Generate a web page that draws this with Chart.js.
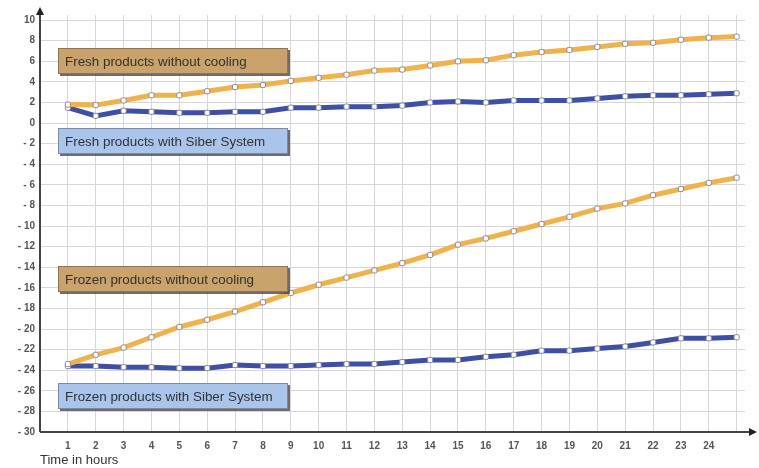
<!DOCTYPE html>
<html>
<head>
<meta charset="utf-8">
<script src="https://cdn.jsdelivr.net/npm/chart.js@4/dist/chart.umd.min.js"></script>
<style>
html,body{margin:0;padding:0;background:#fff;}
#wrap{position:relative;width:759px;height:468px;}
</style>
</head>
<body>
<div id="wrap"><canvas id="c" width="759" height="468"></canvas></div>
<script>
// Hours (25 measured points; labels 1..24)
const hours = [1,2,3,4,5,6,7,8,9,10,11,12,13,14,15,16,17,18,19,20,21,22,23,24,25];
const xTickLabels = ['1','2','3','4','5','6','7','8','9','10','11','12','13','14','15','16','17','18','19','20','21','22','23','24',''];
const yTickValues = [-30,-28,-26,-24,-22,-20,-18,-16,-14,-12,-10,-8,-6,-4,-2,0,2,4,6,8,10];

const freshWithoutCooling = [1.8,1.75,2.2,2.7,2.7,3.1,3.5,3.7,4.1,4.4,4.7,5.1,5.2,5.6,6.0,6.1,6.6,6.9,7.1,7.4,7.7,7.8,8.1,8.3,8.4];
const freshWithSiber      = [1.5,0.7,1.2,1.1,1.0,1.0,1.1,1.1,1.5,1.5,1.6,1.6,1.7,2.0,2.1,2.0,2.2,2.2,2.2,2.4,2.6,2.7,2.7,2.8,2.9];
const frozenWithoutCooling= [-23.4,-22.5,-21.8,-20.8,-19.8,-19.1,-18.3,-17.4,-16.5,-15.7,-15.0,-14.3,-13.6,-12.8,-11.8,-11.2,-10.5,-9.8,-9.1,-8.3,-7.8,-7.0,-6.4,-5.8,-5.3];
const frozenWithSiber     = [-23.6,-23.6,-23.7,-23.7,-23.8,-23.8,-23.5,-23.6,-23.6,-23.5,-23.4,-23.4,-23.2,-23.0,-23.0,-22.7,-22.5,-22.1,-22.1,-21.9,-21.7,-21.3,-20.9,-20.9,-20.8];

const seriesNames = ['Fresh products without cooling','Fresh products with Siber System','Frozen products without cooling','Frozen products with Siber System'];
// label boxes: [text, x-anchor (hour), y-anchor (value, top of box), kind]
const labelBoxes = [
  [seriesNames[0], 0.65, 7.3, 'tan'],
  [seriesNames[1], 0.65, -0.45, 'blue'],
  [seriesNames[2], 0.65, -13.85, 'tan'],
  [seriesNames[3], 0.65, -25.2, 'blue']
];

const ORANGE = '#f0b24a';
const BLUE = '#3d4fa6';

function pts(arr){ return arr.map((v,i)=>({x:hours[i], y:v})); }

function ds(label, data, color){
  return {
    label, data: pts(data),
    borderColor: color, borderWidth: 5,
    pointRadius: 3, pointStyle: 'rectRounded',
    pointBackgroundColor: '#ffffff', pointBorderColor: '#8a8a9a', pointBorderWidth: 1,
    tension: 0, fill: false
  };
}

const boxPlugin = {
  id: 'boxes',
  afterDatasetsDraw(chart){
    const ctx = chart.ctx;
    const xs = chart.scales.x, ys = chart.scales.y;
    ctx.save();
    ctx.font = '13.4px "Liberation Sans", Arial, sans-serif';
    labelBoxes.forEach(([text, hx, vy, kind])=>{
      const x = Math.round(xs.getPixelForValue(hx));
      const y = Math.round(ys.getPixelForValue(vy));
      const w = 230, h = 26;
      ctx.fillStyle = 'rgba(60,60,60,0.75)';
      ctx.fillRect(x+2, y+2, w, h);
      ctx.fillStyle = kind==='tan' ? '#c9a26c' : '#a9c5ec';
      ctx.fillRect(x, y, w, h);
      ctx.strokeStyle = kind==='tan' ? '#8c7652' : '#7d8aa0';
      ctx.lineWidth = 1;
      ctx.strokeRect(x+0.5, y+0.5, w-1, h-1);
      ctx.fillStyle = '#333333';
      ctx.textBaseline = 'middle';
      ctx.textAlign = 'left';
      ctx.fillText(text, x+7, y+h/2+1);
    });
    ctx.restore();
  }
};

const axisPlugin = {
  id: 'arrows',
  afterDraw(chart){
    const ctx = chart.ctx, a = chart.chartArea;
    ctx.save();
    ctx.strokeStyle = '#444'; ctx.fillStyle = '#222'; ctx.lineWidth = 2;
    ctx.beginPath(); ctx.moveTo(a.left, a.bottom); ctx.lineTo(a.left, a.top-3); ctx.stroke();
    ctx.beginPath(); ctx.moveTo(a.left, a.bottom); ctx.lineTo(a.right+6, a.bottom); ctx.stroke();
    ctx.beginPath(); ctx.moveTo(a.left, a.top-8); ctx.lineTo(a.left-4, a.top); ctx.lineTo(a.left+4, a.top); ctx.closePath(); ctx.fill();
    ctx.beginPath(); ctx.moveTo(a.right+12, a.bottom); ctx.lineTo(a.right+4, a.bottom-4); ctx.lineTo(a.right+4, a.bottom+4); ctx.closePath(); ctx.fill();
    ctx.restore();
  }
};

new Chart(document.getElementById('c'), {
  type: 'line',
  data: { datasets: [
    ds(seriesNames[0], freshWithoutCooling, ORANGE),
    ds(seriesNames[1], freshWithSiber, BLUE),
    ds(seriesNames[2], frozenWithoutCooling, ORANGE),
    ds(seriesNames[3], frozenWithSiber, BLUE)
  ]},
  options: {
    responsive: false, animation: false,
    layout: { padding: { top: 15, right: 14, left: 0, bottom: 0 } },
    plugins: { legend: { display: false }, tooltip: { enabled: false } },
    scales: {
      x: {
        type: 'linear', min: 0, max: 25.3,
        afterBuildTicks: s => { s.ticks = hours.map(v=>({value:v})); },
        afterFit: s => { s.height = 36; },
        grid: { color: '#d4d6da', lineWidth: 1, drawTicks: false },
        border: { display: false },
        ticks: {
          padding: 8, color: '#555', font: { size: 10, weight: 'bold', family: 'Arial, "Liberation Sans", sans-serif' },
          maxRotation: 0, autoSkip: false,
          callback: (v) => xTickLabels[hours.indexOf(v)] ?? ''
        },
        title: { display: true, text: 'Time in hours', align: 'start', color: '#333', font: { size: 13, family: '"Liberation Sans", Arial, sans-serif' }, padding: { top: 0, bottom: 0 } }
      },
      y: {
        type: 'linear', min: -30, max: 10.5,
        afterBuildTicks: s => { s.ticks = yTickValues.map(v=>({value:v})); },
        afterFit: s => { s.width = 40; },
        grid: { color: '#d4d6da', lineWidth: 1, drawTicks: false },
        border: { display: false },
        ticks: {
          padding: 5, color: '#555', font: { size: 10, weight: 'bold', family: 'Arial, "Liberation Sans", sans-serif' },
          callback: v => (v < 0 ? '- ' + Math.abs(v) : String(v))
        }
      }
    }
  },
  plugins: [boxPlugin, axisPlugin]
});
</script>
</body>
</html>
